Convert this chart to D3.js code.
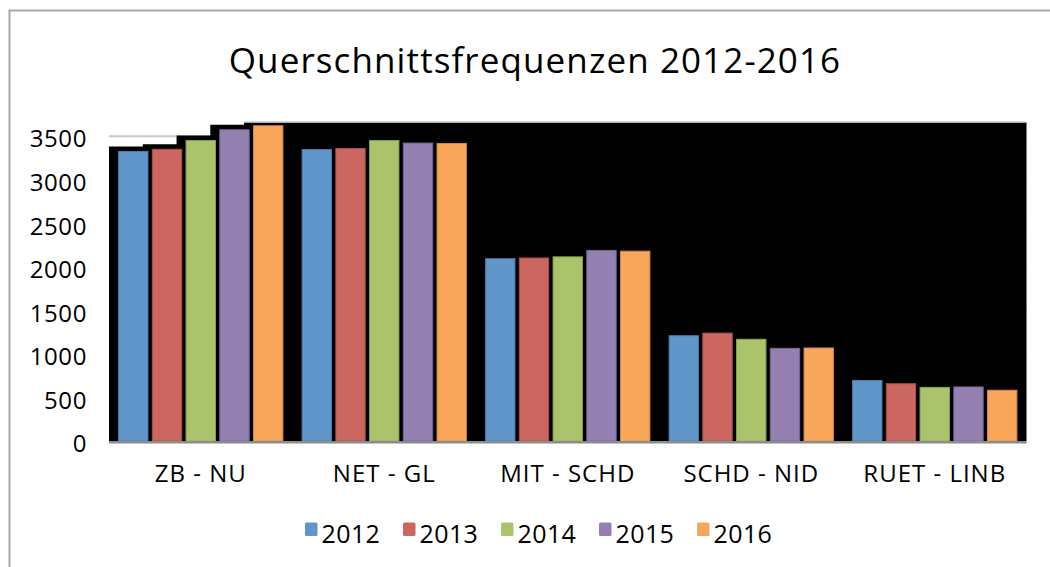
<!DOCTYPE html>
<html><head><meta charset="utf-8">
<script src="https://cdn.jsdelivr.net/npm/d3@7"></script>
<style>body{margin:0;background:#fff}svg{display:block}text{font-family:"Open Sans","Noto Sans",sans-serif;fill:#000}</style>
</head><body><svg id="c" width="1050" height="567"></svg>
<script>
const title = "Querschnittsfrequenzen 2012-2016";
const categories = ["ZB - NU","NET - GL","MIT - SCHD","SCHD - NID","RUET - LINB"];
const years = ["2012","2013","2014","2015","2016"];
const v2012 = [3326, 3348, 2095, 1211, 697];
const v2013 = [3351, 3360, 2103, 1241, 660];
const v2014 = [3451, 3451, 2116, 1170, 618];
const v2015 = [3575, 3422, 2190, 1066, 623];
const v2016 = [3621, 3418, 2181, 1070, 585];
const yTicks = [0,500,1000,1500,2000,2500,3000,3500];
const colors = ["#6096C9","#CC6661","#ABC46C","#9580B2","#F8A659"];
const borders = ["#4a7cb0","#a84e4a","#8aa452","#77669a","#d4884a"];
const series = [v2012,v2013,v2014,v2015,v2016];

const svg = d3.select("#c");
const L = 109, R = 1026.5, B = 441.2;
const y = d3.scaleLinear().domain([0,3500]).range([B,136.3]);
const T = y(3662);
const x0 = d3.scaleBand().domain(categories).range([L,R]).paddingInner(0.0992).paddingOuter(0.0496);
const x1 = d3.scaleBand().domain(years).range([0,x0.bandwidth()]).paddingInner(0.1).paddingOuter(0);

// chart border
svg.append("path").attr("d",`M9.5,567 V10.5 H1050`).attr("fill","none").attr("stroke","#a6a6a6").attr("stroke-width",2);

// title
svg.append("text").attr("x",535).attr("y",73).attr("text-anchor","middle").attr("font-size",35).attr("letter-spacing","1.1px").text(title);

// gridlines (mostly hidden behind black plot fill)
svg.append("g").selectAll("line").data(yTicks.filter(d=>d>0)).join("line")
  .attr("x1",L).attr("x2",R).attr("y1",d=>y(d)).attr("y2",d=>y(d))
  .attr("stroke","#c8c8c8").attr("stroke-width",2);

// black plot fill with stepped "shadow" top following first group
const g0 = categories[0];
const shadowTops = years.map((yr,i)=>y(series[i][0]) - 5);
let pts = [[L,B],[L,shadowTops[0]]];
for (let i=1;i<years.length;i++){
  const xs = x0(g0)+x1(years[i]) - 9;
  const top = i===years.length-1 ? T : shadowTops[i];
  pts.push([xs,shadowTops[i-1]]);
  pts.push([xs,top]);
}
pts.push([R,T]);pts.push([R,B]);
svg.append("path").attr("d",d3.line()(pts)+"Z").attr("fill","#000");
const lastStart = x0(g0)+x1(years[years.length-1]) - 9;
svg.append("line").attr("x1",lastStart).attr("x2",R).attr("y1",T).attr("y2",T).attr("stroke","#b0b0b0").attr("stroke-width",1.5);

// bars
const gg = svg.append("g").selectAll("g").data(categories).join("g")
  .attr("transform",d=>`translate(${x0(d)},0)`);
gg.selectAll("rect").data((c,ci)=>years.map((yr,i)=>({yr,i,v:series[i][ci]}))).join("rect")
  .attr("x",d=>x1(d.yr)+0.5).attr("width",x1.bandwidth()-1)
  .attr("y",d=>y(d.v)).attr("height",d=>B-y(d.v))
  .attr("fill",d=>colors[d.i]).attr("stroke",d=>borders[d.i]).attr("stroke-width",1);

// baseline
svg.append("line").attr("x1",L).attr("x2",R).attr("y1",B+1).attr("y2",B+1).attr("stroke","#8c8c8c").attr("stroke-width",2.5);

// y axis labels
const yAxis = d3.axisLeft(y).tickValues(yTicks).tickSize(0).tickPadding(0).tickFormat(d3.format("d"));
const ya = svg.append("g").attr("transform",`translate(87,3)`).call(yAxis);
ya.select(".domain").remove();
ya.selectAll("text").attr("font-size",24).attr("font-family","Open Sans").attr("fill","#000").attr("letter-spacing","0.6px");

// x axis labels
const xAxis = d3.axisBottom(x0).tickSize(0).tickPadding(0);
const xa = svg.append("g").attr("transform",`translate(0,464.5)`).call(xAxis);
xa.select(".domain").remove();
xa.selectAll("text").attr("font-size",24).attr("font-family","Open Sans").attr("fill","#000").attr("dy","0.71em").attr("letter-spacing","1px");

// legend
const lg = svg.append("g").selectAll("g").data(years).join("g")
  .attr("transform",(d,i)=>`translate(${305 + i*98},0)`);
lg.append("rect").attr("x",0).attr("y",522.5).attr("width",12.5).attr("height",13.5).attr("rx",1.5).attr("fill",(d,i)=>colors[i]);
lg.append("text").attr("x",16.5).attr("y",543).attr("font-size",25).attr("letter-spacing","0.4px").text(d=>d);
</script></body></html>
